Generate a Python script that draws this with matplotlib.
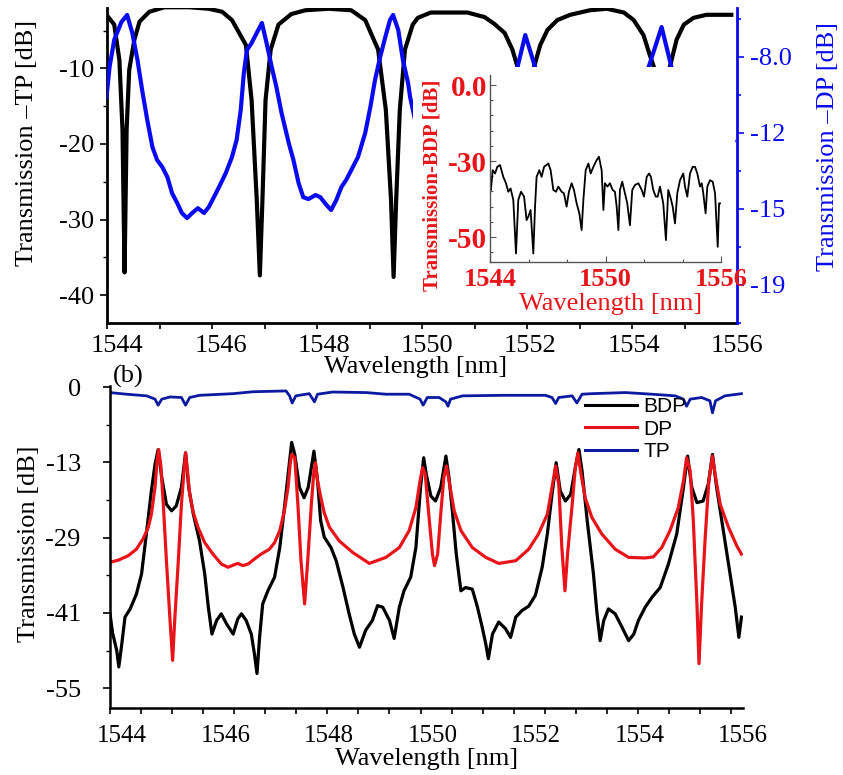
import numpy as np
import matplotlib
matplotlib.use('Agg')
import matplotlib.pyplot as plt
from matplotlib.ticker import FixedLocator
from matplotlib.lines import Line2D

plt.rcParams['font.family'] = ['Liberation Serif', 'DejaVu Serif']

# ---------------- data: panel (a) main, TP (left axis) ----------------
tp_a_wl = [1543.79, 1543.94, 1544.04, 1544.10, 1544.14, 1544.18, 1544.23, 1544.33, 1544.43, 1544.62,
           1544.91, 1545.39, 1545.77, 1546.03, 1546.22, 1546.49, 1546.60, 1546.70, 1546.76, 1546.81,
           1546.87, 1546.97, 1547.12, 1547.37, 1547.64, 1548.09, 1548.53, 1548.80, 1549.05, 1549.20,
           1549.30, 1549.35, 1549.40, 1549.47, 1549.57, 1549.72, 1549.82, 1550.07, 1550.78, 1551.11,
           1551.30, 1551.50, 1551.65, 1551.75, 1551.86, 1551.92, 1551.98, 1552.07, 1552.19, 1552.33,
           1552.52, 1552.77, 1553.15, 1553.48, 1553.81, 1554.00, 1554.19, 1554.31, 1554.39, 1554.48,
           1554.54, 1554.60, 1554.70, 1554.83, 1554.97, 1555.16, 1555.41, 1555.89]
tp_a_db = [-2.9, -4.2, -8.9, -18.1, -37.0, -18.1, -10.2, -6.2, -3.8, -2.5,
           -1.9, -1.9, -2.1, -2.5, -3.6, -6.9, -14.2, -27.4, -37.4, -27.4,
           -14.2, -7.5, -4.2, -2.8, -2.3, -2.1, -2.3, -3.6, -7.5, -15.5,
           -27.4, -37.6, -27.4, -15.5, -7.5, -4.2, -3.3, -2.6, -2.6, -3.2,
           -4.1, -5.3, -7.5, -9.8, -15.5, -36.7, -15.5, -9.8, -6.9, -4.9,
           -3.6, -2.9, -2.3, -2.1, -2.6, -3.6, -5.6, -8.2, -9.8, -15.5,
           -36.7, -15.5, -9.8, -6.2, -4.2, -3.3, -2.9, -2.9]

# ---------------- data: panel (a) main, DP (right axis) ----------------
dp_a_wl = [1543.79, 1543.85, 1543.94, 1544.08, 1544.19, 1544.29, 1544.39, 1544.48, 1544.58, 1544.68,
           1544.77, 1544.87, 1544.97, 1545.06, 1545.16, 1545.25, 1545.35, 1545.45, 1545.56, 1545.68,
           1545.77, 1545.87, 1545.97, 1546.10, 1546.22, 1546.31, 1546.39, 1546.45, 1546.51, 1546.60,
           1546.70, 1546.80, 1546.89, 1546.99, 1547.08, 1547.18, 1547.32, 1547.41, 1547.51, 1547.60,
           1547.70, 1547.84, 1547.93, 1548.05, 1548.14, 1548.24, 1548.34, 1548.43, 1548.53, 1548.66,
           1548.80, 1548.90, 1548.99, 1549.09, 1549.19, 1549.28, 1549.34, 1549.44, 1549.53, 1549.63,
           1549.67, 1549.90, 1550.50, 1551.20, 1551.67, 1551.75, 1551.90, 1552.09, 1552.17, 1553.00,
           1554.00, 1554.21, 1554.29, 1554.54, 1554.73, 1554.83, 1555.50, 1555.93]
dp_a_db = [-9.90, -8.47, -7.19, -6.34, -6.01, -6.86, -8.14, -9.56, -10.99, -12.27,
           -12.88, -13.21, -13.69, -14.45, -14.92, -15.39, -15.63, -15.39, -15.16, -15.39,
           -15.11, -14.64, -14.16, -13.50, -12.74, -11.93, -10.51, -8.76, -7.67, -7.34,
           -6.86, -6.39, -7.34, -8.47, -9.42, -10.65, -12.08, -12.88, -13.97, -14.64,
           -14.73, -14.54, -14.64, -15.01, -15.25, -14.78, -14.16, -13.83, -13.36, -12.74,
           -11.60, -10.37, -9.09, -8.00, -7.05, -6.25, -6.01, -6.72, -8.14, -9.23,
           -9.90, -12.5, -15.0, -13.0, -9.3, -8.47, -6.96, -8.47, -9.56, -15.0,
           -12.0, -9.56, -8.47, -6.58, -8.47, -9.56, -14.0, -12.0]

# ---------------- data: panel (a) inset, BDP ----------------
bdp_in_wl = [1544.05, 1544.14, 1544.26, 1544.38, 1544.52, 1544.69, 1544.83, 1544.95, 1545.07, 1545.21,
             1545.35, 1545.47, 1545.61, 1545.77, 1545.90, 1545.99, 1546.11, 1546.25, 1546.34, 1546.42,
             1546.56, 1546.68, 1546.81, 1547.03, 1547.15, 1547.29, 1547.43, 1547.55, 1547.72, 1547.84,
             1547.98, 1548.10, 1548.24, 1548.36, 1548.50, 1548.64, 1548.76, 1548.85, 1548.97, 1549.11,
             1549.23, 1549.37, 1549.54, 1549.66, 1549.80, 1549.89, 1549.97, 1550.10, 1550.23, 1550.37,
             1550.49, 1550.58, 1550.67, 1550.75, 1550.87, 1551.01, 1551.13, 1551.27, 1551.39, 1551.53,
             1551.71, 1551.88, 1552.00, 1552.14, 1552.26, 1552.36, 1552.48, 1552.61, 1552.71, 1552.83,
             1553.00, 1553.14, 1553.26, 1553.39, 1553.49, 1553.61, 1553.73, 1553.87, 1554.04, 1554.13,
             1554.25, 1554.39, 1554.53, 1554.65, 1554.77, 1554.91, 1555.00, 1555.08, 1555.20, 1555.29,
             1555.43, 1555.57, 1555.69, 1555.83, 1555.90, 1555.95]
bdp_in_db = [-34.5, -28.0, -29.1, -26.9, -26.3, -30.2, -32.3, -35.1, -34.0, -37.8,
             -55.4, -37.8, -35.1, -36.7, -44.4, -43.3, -41.1, -55.4, -40.0, -30.2,
             -28.0, -30.2, -26.9, -25.8, -28.0, -34.5, -35.1, -33.4, -35.1, -35.6,
             -40.0, -35.1, -32.3, -34.5, -38.9, -42.2, -47.7, -37.8, -28.0, -25.8,
             -29.1, -26.9, -24.7, -23.6, -28.0, -41.1, -32.3, -33.4, -32.3, -34.5,
             -35.1, -40.0, -47.7, -34.5, -31.8, -35.6, -38.9, -46.1, -34.5, -32.9,
             -32.3, -34.5, -36.7, -30.2, -29.1, -30.2, -34.5, -36.7, -36.7, -33.4,
             -38.9, -51.0, -34.5, -37.3, -40.0, -45.5, -35.6, -31.3, -29.1, -33.4,
             -36.7, -29.1, -26.9, -26.9, -29.1, -33.4, -32.3, -35.6, -42.2, -33.4,
             -31.3, -31.8, -35.6, -53.2, -38.9, -38.9]

# ---------------- data: panel (b) ----------------
tp_b_wl = [1543.77, 1544.09, 1544.48, 1544.64, 1544.70, 1544.77, 1544.93, 1545.15, 1545.23, 1545.31,
           1545.50, 1546.15, 1546.53, 1547.17, 1547.24, 1547.29, 1547.36, 1547.62, 1547.72, 1547.78,
           1548.07, 1548.72, 1549.10, 1549.55, 1549.76, 1549.82, 1549.90, 1550.13, 1550.26, 1550.30,
           1550.35, 1550.58, 1551.35, 1552.18, 1552.31, 1552.38, 1552.44, 1552.70, 1552.79, 1552.89,
           1553.08, 1553.73, 1554.24, 1554.69, 1554.85, 1554.91, 1554.98, 1555.20, 1555.36, 1555.41,
           1555.47, 1555.65, 1555.97]
tp_b_db = [-1.0, -1.3, -1.6, -2.2, -3.3, -2.2, -1.8, -1.9, -3.3, -1.9,
           -1.5, -1.2, -0.85, -0.7, -1.6, -2.9, -1.6, -1.2, -2.7, -1.3,
           -0.9, -1.0, -1.3, -1.3, -2.2, -3.3, -1.9, -1.9, -2.7, -3.5,
           -2.2, -1.6, -1.5, -1.5, -1.9, -3.0, -1.9, -1.6, -2.9, -1.3,
           -1.2, -1.0, -1.3, -1.6, -2.2, -3.5, -2.2, -1.9, -2.5, -4.7,
           -2.5, -1.6, -1.2]

dp_b_wl = [1543.77, 1543.93, 1544.12, 1544.28, 1544.41, 1544.51, 1544.57, 1544.64, 1544.68, 1544.71,
           1544.75, 1544.80, 1544.86, 1544.93, 1544.98, 1545.02, 1545.09, 1545.15, 1545.20, 1545.23,
           1545.26, 1545.31, 1545.38, 1545.47, 1545.60, 1545.76, 1545.92, 1546.05, 1546.18, 1546.24,
           1546.34, 1546.44, 1546.56, 1546.69, 1546.85, 1546.95, 1547.05, 1547.14, 1547.21, 1547.25,
           1547.28, 1547.34, 1547.40, 1547.46, 1547.53, 1547.59, 1547.66, 1547.71, 1547.74, 1547.78,
           1547.84, 1547.91, 1548.01, 1548.20, 1548.46, 1548.78, 1549.10, 1549.36, 1549.55, 1549.68,
           1549.76, 1549.81, 1549.86, 1549.94, 1550.00, 1550.04, 1550.10, 1550.16, 1550.22, 1550.27,
           1550.32, 1550.42, 1550.55, 1550.77, 1551.03, 1551.28, 1551.61, 1551.86, 1552.05, 1552.22,
           1552.31, 1552.38, 1552.44, 1552.50, 1552.56, 1552.61, 1552.70, 1552.76, 1552.81, 1552.86,
           1552.95, 1553.08, 1553.27, 1553.53, 1553.79, 1554.11, 1554.27, 1554.43, 1554.59, 1554.75,
           1554.85, 1554.91, 1554.98, 1555.04, 1555.11, 1555.15, 1555.20, 1555.27, 1555.34, 1555.41,
           1555.46, 1555.56, 1555.72, 1555.88, 1555.97]
dp_b_db = [-32.0, -31.6, -30.8, -29.6, -27.7, -25.6, -23.2, -18.3, -13.5, -11.4,
           -14.1, -21.4, -31.7, -42.6, -49.9, -42.6, -31.7, -21.4, -15.3, -12.0,
           -14.7, -19.6, -22.9, -25.6, -28.4, -30.5, -32.3, -32.9, -32.4, -32.2,
           -32.6, -32.3, -31.4, -30.5, -29.6, -28.4, -26.2, -22.6, -18.3, -14.1,
           -12.3, -12.9, -21.4, -31.7, -39.6, -31.7, -21.4, -15.3, -13.8, -17.1,
           -20.0, -23.0, -25.6, -28.1, -30.2, -32.2, -31.1, -29.3, -26.2, -22.0,
           -17.1, -14.7, -15.9, -24.4, -30.5, -32.6, -30.5, -23.2, -16.5, -14.4,
           -17.1, -22.6, -26.2, -29.3, -31.1, -32.2, -31.7, -29.6, -26.8, -23.2,
           -18.3, -14.4, -17.7, -29.3, -37.2, -30.5, -21.4, -14.7, -12.0, -15.3,
           -20.2, -23.8, -26.8, -29.6, -31.1, -31.2, -31.0, -29.3, -26.2, -22.0,
           -17.1, -12.9, -15.3, -24.4, -39.6, -50.5, -39.6, -27.4, -17.1, -12.6,
           -15.9, -21.4, -25.6, -29.0, -30.5]

bdp_b_wl = [1543.77, 1543.82, 1543.90, 1543.94, 1543.99, 1544.06, 1544.16, 1544.28, 1544.38, 1544.48,
            1544.57, 1544.64, 1544.70, 1544.77, 1544.86, 1544.96, 1545.05, 1545.15, 1545.23, 1545.29,
            1545.38, 1545.50, 1545.60, 1545.67, 1545.74, 1545.83, 1545.92, 1546.02, 1546.15, 1546.24,
            1546.31, 1546.40, 1546.50, 1546.56, 1546.61, 1546.66, 1546.72, 1546.82, 1546.95, 1547.05,
            1547.14, 1547.24, 1547.28, 1547.34, 1547.43, 1547.52, 1547.60, 1547.71, 1547.78, 1547.84,
            1547.91, 1548.04, 1548.14, 1548.27, 1548.39, 1548.49, 1548.59, 1548.71, 1548.84, 1548.94,
            1549.04, 1549.17, 1549.26, 1549.36, 1549.45, 1549.58, 1549.68, 1549.77, 1549.83, 1549.88,
            1549.97, 1550.06, 1550.16, 1550.26, 1550.32, 1550.39, 1550.46, 1550.55, 1550.64, 1550.77,
            1550.87, 1550.96, 1551.03, 1551.08, 1551.16, 1551.28, 1551.41, 1551.51, 1551.61, 1551.73,
            1551.86, 1551.99, 1552.12, 1552.22, 1552.31, 1552.39, 1552.47, 1552.57, 1552.67, 1552.76,
            1552.83, 1552.89, 1552.99, 1553.11, 1553.18, 1553.24, 1553.31, 1553.40, 1553.53, 1553.66,
            1553.79, 1553.89, 1553.98, 1554.11, 1554.24, 1554.40, 1554.56, 1554.72, 1554.85, 1554.93,
            1555.01, 1555.11, 1555.23, 1555.33, 1555.41, 1555.49, 1555.59, 1555.72, 1555.85, 1555.92,
            1555.97]
bdp_b_db = [-41.4, -44.9, -48.1, -51.1, -47.5, -42.0, -40.5, -37.8, -34.1, -26.2,
            -18.9, -14.1, -11.4, -16.5, -21.4, -22.6, -21.7, -18.3, -12.0, -18.3,
            -23.2, -28.1, -34.1, -40.2, -45.1, -42.6, -41.4, -43.2, -45.1, -42.3,
            -41.4, -42.6, -45.1, -48.7, -52.3, -45.7, -39.6, -37.2, -34.7, -29.3,
            -22.0, -13.5, -10.1, -12.3, -18.3, -20.2, -18.3, -11.7, -17.1, -24.4,
            -27.4, -29.3, -31.7, -36.5, -41.4, -45.1, -47.5, -44.4, -42.6, -39.9,
            -40.2, -42.6, -45.9, -40.2, -37.2, -34.7, -29.3, -18.3, -12.9, -15.9,
            -19.9, -20.8, -18.3, -12.6, -16.5, -23.2, -30.5, -37.2, -36.6, -36.9,
            -40.2, -43.8, -46.9, -49.6, -45.1, -42.9, -44.1, -45.7, -42.0, -40.8,
            -40.0, -38.0, -32.9, -26.8, -19.6, -13.8, -19.0, -20.8, -19.6, -14.7,
            -11.4, -15.3, -24.4, -34.1, -41.4, -46.3, -42.6, -40.5, -41.4, -43.8,
            -46.3, -45.1, -42.6, -40.2, -38.4, -36.6, -32.3, -26.8, -18.3, -12.6,
            -18.3, -21.1, -20.8, -17.7, -12.3, -18.3, -24.4, -32.3, -40.2, -45.7,
            -42.0]

# ---------------- tick labels ----------------
wl_ticks = [1544, 1546, 1548, 1550, 1552, 1554, 1556]
wl_labels = ['1544', '1546', '1548', '1550', '1552', '1554', '1556']
tp_a_yticks = [-10, -20, -30, -40]
tp_a_ylabels = ['-10', '-20', '-30', '-40']
dp_a_yticks = [-8.0, -11.6, -15.2, -18.8]
dp_a_ylabels = ['-8.0', '-12', '-15', '-19']
in_xticks = [1544, 1550, 1556]
in_xlabels = ['1544', '1550', '1556']
in_yticks = [0, -25, -50]
in_ylabels = ['0.0', '-30', '-50']
b_yticks = [0, -13.75, -27.5, -41.25, -55]
b_ylabels = ['0', '-13', '-29', '-41', '-55']

W, H = 843, 775
def rect(x0, y0, x1, y1):
    return [x0 / W, 1 - y1 / H, (x1 - x0) / W, (y1 - y0) / H]

RED = '#e8141a'
BLUE = '#0a0af0'
NAVY = '#0c1aa0'

fig = plt.figure(figsize=(W / 100, H / 100), dpi=100)

# ================= panel (a) =================
ax = fig.add_axes(rect(107, 8, 737, 323))
ax.plot(tp_a_wl, tp_a_db, color='black', lw=3.0, solid_joinstyle='round')
ax.set_xlim(1543.8, 1556.0)
ax.set_ylim(-43.7, -2.0)
ax.set_xticks(wl_ticks)
ax.set_xticklabels(wl_labels)
ax.xaxis.set_minor_locator(FixedLocator(np.linspace(1543.8, 1556.0, 13)))
ax.set_yticks(tp_a_yticks)
ax.set_yticklabels(tp_a_ylabels)
ax.yaxis.set_minor_locator(FixedLocator([-5, -15, -25, -35]))
ax.tick_params(axis='x', which='major', length=0, labelsize=19, pad=9)
ax.tick_params(axis='x', which='minor', length=4, width=1.2, direction='out')
ax.tick_params(axis='y', which='major', length=5, width=1.2, labelsize=19, pad=4)
ax.tick_params(axis='y', which='minor', length=3, width=1.0)
ax.spines['top'].set_visible(False)
ax.spines['right'].set_visible(False)
for s in ['left', 'bottom']:
    ax.spines[s].set_linewidth(2.0)
ax.set_ylabel('Transmission \u2013TP [dB]', fontsize=19)
ax.yaxis.set_label_coords(-0.1095, 0.571)
ax.set_xlabel('Wavelength [nm]', fontsize=19)
ax.xaxis.set_label_coords(0.489, -0.105)

ax2 = ax.twinx()
ax2.plot(dp_a_wl, dp_a_db, color=BLUE, lw=3.0, solid_joinstyle='round')
ax2.set_ylim(-20.6, -5.68)
ax2.set_yticks(dp_a_yticks)
ax2.set_yticklabels(dp_a_ylabels)
ax2.yaxis.set_minor_locator(FixedLocator([-6.2, -9.8, -13.4, -17.0, -20.6]))
ax2.tick_params(axis='y', which='both', colors=BLUE, labelsize=19, width=1.2)
ax2.tick_params(axis='y', which='major', length=5, pad=4)
ax2.tick_params(axis='y', which='minor', length=3)
for s in ['top', 'left', 'bottom']:
    ax2.spines[s].set_visible(False)
ax2.spines['right'].set_color(BLUE)
ax2.spines['right'].set_linewidth(2.0)
ax2.set_ylabel('Transmission \u2013DP [dB]', fontsize=19, color=BLUE)
ax2.yaxis.set_label_coords(1.127, 0.559)

# white backing for the inset
box = fig.add_axes(rect(413, 67, 735, 321))
box.set_zorder(5)
box.set_facecolor('white')
box.set_xticks([])
box.set_yticks([])
for s in box.spines.values():
    s.set_visible(False)

ain = fig.add_axes(rect(490, 75, 721, 262))
ain.set_zorder(6)
ain.patch.set_alpha(0)
ain.plot(bdp_in_wl, bdp_in_db, color='black', lw=1.3)
ain.set_xlim(1544, 1556)
ain.set_ylim(-58.2, 3.3)
ain.set_xticks(in_xticks)
ain.set_xticklabels(in_xlabels)
ain.xaxis.set_minor_locator(FixedLocator([1546, 1548, 1552, 1554]))
ain.set_yticks(in_yticks)
ain.set_yticklabels(in_ylabels)
ain.yaxis.set_minor_locator(FixedLocator([-5, -10, -15, -20, -30, -35, -40, -45, -55]))
ain.tick_params(axis='both', which='both', direction='in', color='#555555', width=0.8)
ain.tick_params(axis='both', which='major', length=4)
ain.tick_params(axis='both', which='minor', length=2.5)
ain.tick_params(axis='x', labelsize=19, labelcolor=RED, pad=4)
ain.tick_params(axis='y', labelsize=21, labelcolor=RED, pad=2)
for lab in ain.get_xticklabels() + ain.get_yticklabels():
    lab.set_fontweight('bold')
ain.spines['top'].set_visible(False)
ain.spines['right'].set_visible(False)
for s in ['left', 'bottom']:
    ain.spines[s].set_color('#555555')
    ain.spines[s].set_linewidth(1.0)
ain.set_ylabel('Transmission-BDP [dB]', fontsize=15, color=RED, fontweight='bold')
ain.yaxis.set_label_coords(-0.205, 0.41)
ain.set_xlabel('Wavelength [nm]', fontsize=19, color=RED)
ain.xaxis.set_label_coords(0.524, -0.165)

# ================= panel (b) =================
bx = fig.add_axes(rect(110, 386, 743, 708))
bx.plot(bdp_b_wl, bdp_b_db, color='black', lw=2.3, label='BDP', solid_joinstyle='round')
bx.plot(dp_b_wl, dp_b_db, color=RED, lw=2.3, label='DP', solid_joinstyle='round')
bx.plot(tp_b_wl, tp_b_db, color=NAVY, lw=2.0, label='TP', solid_joinstyle='round')
bx.set_xlim(1543.77, 1556.0)
bx.set_ylim(-58.6, 0.2)
bx.set_xticks(wl_ticks)
bx.set_xticklabels(wl_labels)
bx.xaxis.set_minor_locator(FixedLocator(1543.77 + 0.6 * np.arange(21)))
bx.set_yticks(b_yticks)
bx.set_yticklabels(b_ylabels)
bx.yaxis.set_minor_locator(FixedLocator([-6.875, -20.625, -34.375, -48.125]))
bx.tick_params(axis='x', which='major', length=0, labelsize=18, pad=12)
bx.tick_params(axis='x', which='minor', length=4, width=1.2)
bx.tick_params(axis='y', which='major', length=5, width=1.2, labelsize=19, pad=16)
bx.tick_params(axis='y', which='minor', length=3, width=1.0)
bx.spines['top'].set_visible(False)
bx.spines['right'].set_visible(False)
for s in ['left', 'bottom']:
    bx.spines[s].set_linewidth(1.8)
bx.set_ylabel('Transmission [dB]', fontsize=19)
bx.yaxis.set_label_coords(-0.111, 0.509)
bx.set_xlabel('Wavelength [nm]', fontsize=19)
bx.xaxis.set_label_coords(0.5, -0.125)

handles = [Line2D([], [], color='black', lw=2.2),
           Line2D([], [], color=RED, lw=2.2),
           Line2D([], [], color=NAVY, lw=2.2)]
bx.legend(handles, ['BDP', 'DP', 'TP'], loc='upper left',
          bbox_to_anchor=(585 / W, 1 - 397 / H), bbox_transform=fig.transFigure,
          frameon=False, prop={'family': 'Liberation Sans', 'size': 15},
          handlelength=2.5, handletextpad=0.3, labelspacing=0.17,
          borderpad=0, borderaxespad=0)

fig.text(113 / W, 1 - 376 / H, '(b)', fontsize=19, ha='left', va='center')

fig.savefig('out.png', dpi=100)
